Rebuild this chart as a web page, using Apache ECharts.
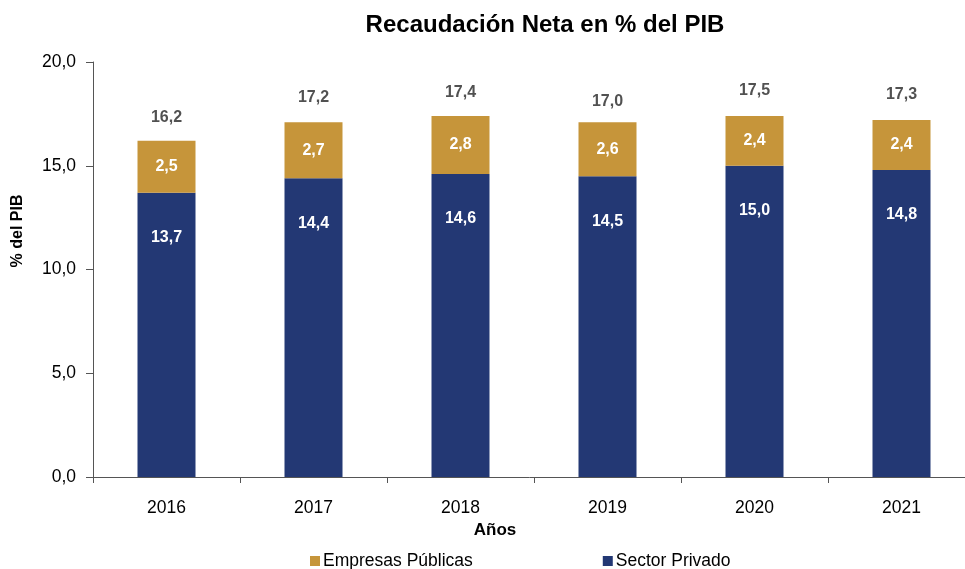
<!DOCTYPE html>
<html>
<head>
<meta charset="utf-8">
<script src="https://cdn.jsdelivr.net/npm/echarts@6/dist/echarts.min.js"></script>
<style>
  html, body { margin: 0; padding: 0; background: #fff; }
  #chart { width: 965px; height: 569px; }
</style>
</head>
<body>
<div id="chart"></div>
<script>
const years = ['2016', '2017', '2018', '2019', '2020', '2021']
const privado = [13.7, 14.4, 14.6, 14.5, 15.0, 14.8]
const empresas = [2.5, 2.7, 2.8, 2.6, 2.4, 2.4]
const totals = [16.2, 17.2, 17.4, 17.0, 17.5, 17.3]

const fmt = v => v.toFixed(1).replace('.', ',')
const font = 'Liberation Sans, Arial, sans-serif'

const myChart = echarts.init(document.getElementById('chart'))
myChart.setOption({
  animation: false,
  textStyle: { fontFamily: font },
  title: {
    text: 'Recaudación Neta en % del PIB',
    left: 540,
    textAlign: 'center',
    top: 8,
    textStyle: { fontSize: 24, fontWeight: 'bold', color: '#000', fontFamily: font }
  },
  legend: {
    bottom: -6,
    left: 305,
    itemGap: 130,
    itemWidth: 10,
    itemHeight: 10,
    icon: 'rect',
    textStyle: { fontSize: 17.5, color: '#000', fontFamily: font, padding: [0, 0, 0, -2] },
    data: ['Empresas Públicas', 'Sector Privado']
  },
  graphic: [
    {
      type: 'text',
      x: 18,
      y: 231,
      rotation: Math.PI / 2,
      style: {
        text: '% del PIB',
        font: 'bold 16px ' + font,
        fill: '#000',
        textAlign: 'center',
        textVerticalAlign: 'middle'
      }
    }
  ],
  grid: { left: 93, top: 62, width: 882, height: 415, outerBoundsMode: 'none' },
  xAxis: {
    type: 'category',
    data: years,
    name: 'Años',
    nameLocation: 'middle',
    nameGap: 44,
    nameTextStyle: { fontSize: 17, fontWeight: 'bold', color: '#000', fontFamily: font, padding: [0, 0, 0, -78] },
    axisLine: { lineStyle: { color: '#555' } },
    axisTick: { show: true, length: 6, lineStyle: { color: '#555' } },
    axisLabel: { fontSize: 17.5, color: '#000', margin: 22, fontFamily: font }
  },
  yAxis: {
    type: 'value',
    min: 0,
    max: 20,
    interval: 5,
    axisLine: { show: true, lineStyle: { color: '#555' } },
    axisTick: { show: true, length: 7, lineStyle: { color: '#555' } },
    splitLine: { show: false },
    axisLabel: { fontSize: 17.5, color: '#000', margin: 17, fontFamily: font, formatter: v => fmt(v) }
  },
  series: [
    {
      name: 'Sector Privado',
      type: 'bar',
      stack: 'total',
      data: privado,
      barWidth: 58,
      itemStyle: { color: '#233874' },
      label: {
        show: true,
        position: 'insideTop',
        distance: 37,
        color: '#fff',
        fontWeight: 'bold',
        fontSize: 16,
        fontFamily: font,
        formatter: p => fmt(p.value)
      }
    },
    {
      name: 'Empresas Públicas',
      type: 'bar',
      stack: 'total',
      data: empresas,
      barWidth: 58,
      itemStyle: { color: '#C6953A' },
      label: {
        show: true,
        position: 'inside',
        color: '#fff',
        fontWeight: 'bold',
        fontSize: 16,
        fontFamily: font,
        formatter: p => fmt(p.value)
      }
    },
    {
      name: 'Total',
      type: 'scatter',
      data: totals,
      symbolSize: 0,
      silent: true,
      label: {
        show: true,
        position: 'top',
        distance: 15,
        color: '#262626',
        fontWeight: 'bold',
        fontSize: 16,
        fontFamily: font,
        formatter: p => fmt(p.value)
      }
    }
  ]
})
</script>
</body>
</html>
